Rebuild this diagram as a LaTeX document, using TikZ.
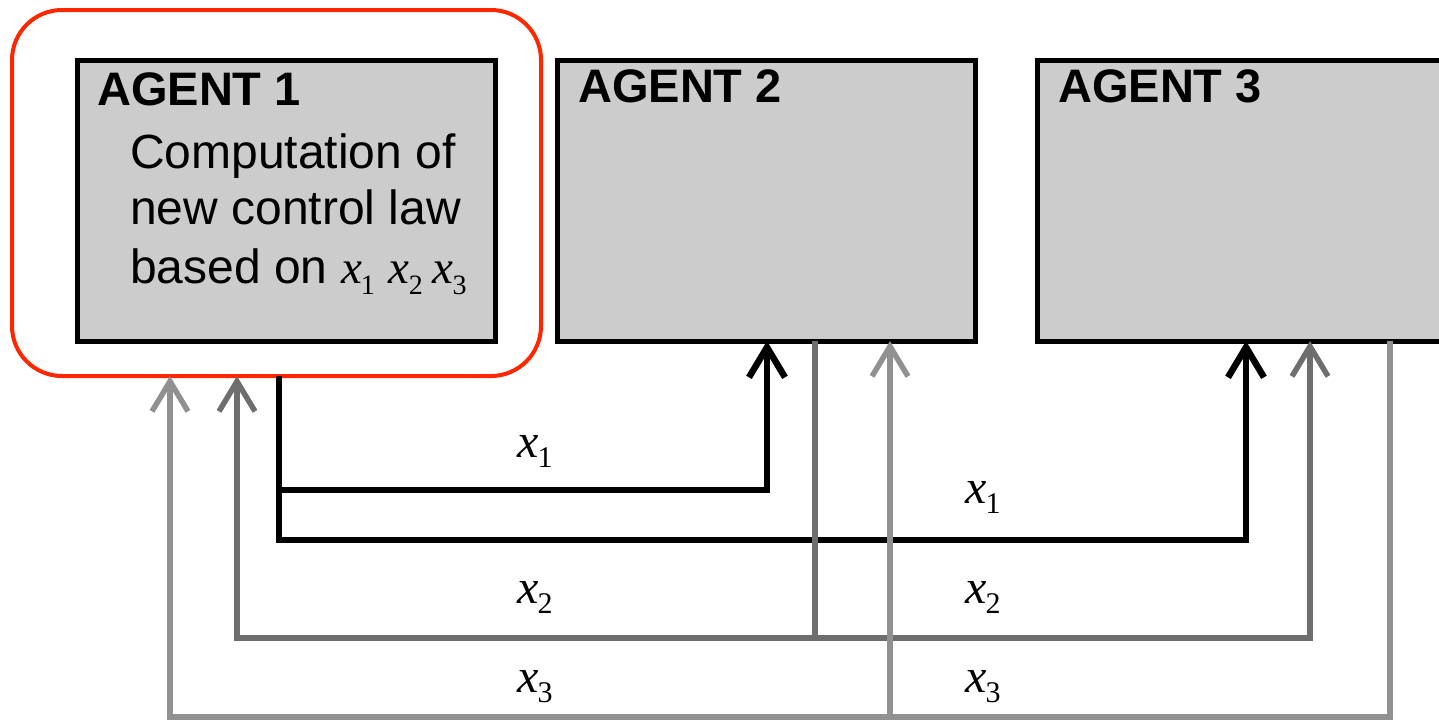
\documentclass[tikz,border=0pt]{standalone}
\usepackage{fontspec}
\setmainfont{Liberation Sans}
\newfontfamily\serifx{Liberation Serif}
\usetikzlibrary{arrows.meta}
\definecolor{boxgray}{RGB}{204,204,204}
\definecolor{redline}{RGB}{255,38,0}
\definecolor{gtwo}{RGB}{110,110,110}
\definecolor{gthree}{RGB}{145,145,145}
\newcommand\lblx[1]{{\fontsize{48}{48}\selectfont\serifx\itshape x}\kern-1pt\raisebox{-10pt}{\fontsize{30}{30}\selectfont\serifx #1}}
\newcommand\boxx[1]{{\fontsize{47}{47}\selectfont\serifx\itshape x}\kern-1pt\raisebox{-11pt}{\fontsize{28}{28}\selectfont\serifx #1}}
\begin{document}
\begin{tikzpicture}[x=1pt,y=-1pt,
  agent/.style={draw,line width=5pt,fill=boxgray,rectangle,minimum width=418pt,minimum height=281pt,anchor=north west,inner sep=0pt,outer sep=0pt},
  title/.style={anchor=base west,inner sep=0pt,font=\fontsize{47}{47}\selectfont\bfseries},
  body/.style={anchor=base west,inner sep=0pt,font=\fontsize{48}{48}\selectfont},
  lbl/.style={anchor=base west,inner sep=0pt},
  tipa/.tip={Straight Barb[length=30pt,width=36pt]},
  sigone/.style={draw=black,line width=6.5pt,line join=miter},
  sigtwo/.style={draw=gtwo,line width=5.5pt,line join=miter},
  sigthree/.style={draw=gthree,line width=5.5pt,line join=miter}]
\clip (0,0) rectangle (1439,721);
\useasboundingbox (0,0) rectangle (1439,721);
% group box
\node[draw=redline,line width=4pt,rounded corners=50pt,minimum width=529pt,minimum height=366pt,anchor=north west,inner sep=0pt,outer sep=0pt] (grp) at (12,10) {};
% agents
\node[agent] (a1) at (77,60) {};
\node[agent] (a2) at (557,60) {};
\node[agent] (a3) at (1037,60) {};
\node[title] (t1) at (97,105) {AGENT 1};
\node[title] (t2) at (578,102) {AGENT 2};
\node[title] (t3) at (1058,102) {AGENT 3};
\node[body] (b1) at (130,168) {Computation of};
\node[body] (b2) at (130,224) {new control law};
\node[body] (b3) at (130,283) {based on \boxx{1}\hspace{14pt}\boxx{2}\hspace{10pt}\boxx{3}};
% coordinates
\coordinate (k1) at (279,490);
\coordinate (k2) at (279,540);
\coordinate (e12) at (767,490);
\coordinate (e13) at (1246,540);
\coordinate (m1) at (237,638);
\coordinate (m2) at (815,638);
\coordinate (m3) at (1310,638);
\coordinate (n1) at (170,717);
\coordinate (n2) at (890,717);
\coordinate (n3) at (1390,717);
% x1
\draw[sigone,-tipa] (grp.south -| k1) -- (k2) -- (e13) -- (a3.south -| e13);
\draw[sigone,-tipa] (k1) -- (e12) -- (a2.south -| e12);
% x2
\draw[sigtwo] (a2.south -| m2) -- (m2);
\draw[sigtwo,tipa-tipa] (grp.south -| m1) -- (m1) -- (m3) -- (a3.south -| m3);
% x3
\draw[sigthree,-tipa] (a3.south -| n3) -- (n3) -- (n1) -- (grp.south -| n1);
\draw[sigthree,-tipa] (n2) -- (a2.south -| n2);
% labels
\node[lbl] (l1a) at (517,457) {\lblx{1}};
\node[lbl] (l1b) at (965,503) {\lblx{1}};
\node[lbl] (l2a) at (517,603) {\lblx{2}};
\node[lbl] (l2b) at (965,603) {\lblx{2}};
\node[lbl] (l3a) at (517,692) {\lblx{3}};
\node[lbl] (l3b) at (965,692) {\lblx{3}};
\end{tikzpicture}
\end{document}
